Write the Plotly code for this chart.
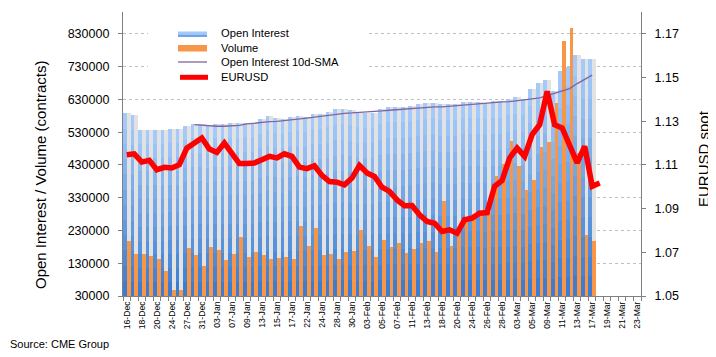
import plotly.graph_objects as go
import numpy as np

# ---------------- data ----------------
categories = ["16-Dec", "17-Dec", "18-Dec", "19-Dec", "20-Dec", "23-Dec", "24-Dec", "26-Dec", "27-Dec",
              "30-Dec", "31-Dec", "02-Jan", "03-Jan", "06-Jan", "07-Jan", "08-Jan", "09-Jan", "10-Jan",
              "13-Jan", "14-Jan", "15-Jan", "16-Jan", "17-Jan", "21-Jan", "22-Jan", "23-Jan", "24-Jan",
              "27-Jan", "28-Jan", "29-Jan", "30-Jan", "31-Jan", "03-Feb", "04-Feb", "05-Feb", "06-Feb",
              "07-Feb", "10-Feb", "11-Feb", "12-Feb", "13-Feb", "14-Feb", "18-Feb", "19-Feb", "20-Feb",
              "21-Feb", "24-Feb", "25-Feb", "26-Feb", "27-Feb", "28-Feb", "02-Mar", "03-Mar", "04-Mar",
              "05-Mar", "06-Mar", "09-Mar", "10-Mar", "11-Mar", "12-Mar", "13-Mar", "16-Mar", "17-Mar",
              "18-Mar", "19-Mar", "20-Mar", "21-Mar", "22-Mar", "23-Mar"]

tick_labels = [c if i % 2 == 0 else "" for i, c in enumerate(categories)]

open_interest = [587000, 583000, 537000, 537000, 537000, 537000, 540000, 540000, 550000, 555000,
                 555000, 549000, 555000, 555000, 557000, 557000, 558000, 558000, 571000, 578000,
                 573000, 571000, 577000, 580000, 576000, 586000, 586000, 592000, 600000, 602000,
                 599000, 592000, 590000, 590000, 602000, 608000, 608000, 608000, 611000, 617000,
                 620000, 620000, 617000, 617000, 617000, 623000, 623000, 623000, 619000, 624000,
                 624000, 631000, 637000, 631000, 663000, 681000, 690000, 657000, 718000, 729000,
                 764000, 752000, 752000]

volume = [198000, 158000, 158000, 152000, 143000, 106000, 48000, 48000, 177000, 155000,
          122000, 180000, 171000, 140000, 158000, 210000, 149000, 164000, 155000, 143000,
          146000, 149000, 143000, 244000, 183000, 238000, 155000, 158000, 143000, 164000,
          167000, 232000, 183000, 149000, 201000, 180000, 192000, 161000, 174000, 192000,
          198000, 165000, 320000, 183000, 224000, 259000, 280000, 284000, 287000, 395000,
          433000, 503000, 428000, 354000, 384000, 486000, 501000, 620000, 809000, 849000,
          466000, 216000, 198000]

oi_sma10 = [553000, 551000, 549000, 548000, 548000, 549000, 551000, 555000, 558000, 560000,
            562000, 563000, 565000, 568000, 571000, 573000, 576000, 579000, 582000, 585500,
            587600, 588600, 589600, 590700, 592700, 594700, 596800, 598800, 600800, 601900,
            602900, 604900, 607000, 607000, 609000, 612000, 614000, 616000, 618000, 619200,
            621200, 622300, 623300, 625300, 627300, 631400, 634500, 641600, 647800, 654900,
            663000, 678300, 690600, 703900]
sma_start = 9

eurusd = [1.1147, 1.1151, 1.1113, 1.1121, 1.1078, 1.1089, 1.1086, 1.1101, 1.1177, 1.1197,
          1.1223, 1.1173, 1.1157, 1.1200, 1.1154, 1.1106, 1.1106, 1.1109, 1.1124, 1.1139,
          1.1132, 1.1151, 1.1139, 1.1090, 1.1083, 1.1096, 1.1052, 1.1024, 1.1021, 1.1009,
          1.1040, 1.1098, 1.1063, 1.1047, 1.0998, 1.0979, 1.0940, 1.0913, 1.0914, 1.0872,
          1.0841, 1.0833, 1.0795, 1.0803, 1.0787, 1.0849, 1.0856, 1.0879, 1.0882, 1.1002,
          1.1029, 1.1132, 1.1177, 1.1139, 1.1239, 1.1284, 1.1437, 1.1284, 1.1269, 1.1193,
          1.1109, 1.1185, 1.1002, 1.1017]

left_ticks = [30000, 130000, 230000, 330000, 430000, 530000, 630000, 730000, 830000]
right_ticks = [1.05, 1.07, 1.09, 1.11, 1.13, 1.15, 1.17]

# ---------------- styling ----------------
FONT = "Liberation Sans, Arial, Helvetica, sans-serif"
AX_COL = "#808080"
Y_MIN = 30000
PAGE_W, PAGE_H = 716, 357
BODY = 8                              # default page body margin
X0, X1, Y0, Y1 = 123, 641, 12, 296    # plot area in page pixels
FIG_W, FIG_H = PAGE_W - BODY, PAGE_H - BODY


def px(x):
    return (x - X0) / (X1 - X0)


def py(y):
    return (Y1 - y) / (Y1 - Y0)


def mix(c1, c2, t):
    a = [int(c1[i:i + 2], 16) for i in (1, 3, 5)]
    b = [int(c2[i:i + 2], 16) for i in (1, 3, 5)]
    return "#" + "".join(f"{int(round(a[k] + (b[k] - a[k]) * t)):02x}" for k in range(3))


fig = go.Figure()
x_bars = categories[:len(open_interest)]
oi = np.array(open_interest, dtype=float)

# Open interest bars with a vertical gradient (layered bands)
n_bands = 12
for k in range(n_bands):
    f = 1 - k / n_bands
    col = mix("#a4cafb", "#3a7dd2", k / (n_bands - 1))
    fig.add_trace(go.Bar(x=x_bars, y=Y_MIN + (oi - Y_MIN) * f, width=0.5, offset=-0.5,
                         marker=dict(color=col, line=dict(width=0)),
                         name="Open Interest", showlegend=False,
                         hoverinfo="skip" if k else None))

# bar shadow
fig.add_trace(go.Bar(x=x_bars, y=open_interest, width=0.5, offset=0.0,
                     marker=dict(color="#e2e2e2", line=dict(width=0)),
                     showlegend=False, hoverinfo="skip"))

fig.add_trace(go.Bar(x=x_bars, y=volume, width=0.5, offset=0.0,
                     marker=dict(color="#f79646", line=dict(width=0)),
                     name="Volume", showlegend=False))

fig.add_trace(go.Scatter(x=categories[sma_start:sma_start + len(oi_sma10)], y=oi_sma10,
                         mode="lines", line=dict(color="#8064a2", width=1.3),
                         name="Open Interest 10d-SMA", showlegend=False))

fig.add_trace(go.Scatter(x=categories[:len(eurusd)], y=eurusd, yaxis="y2",
                         mode="lines", line=dict(color="#ff0000", width=5.5),
                         name="EURUSD", showlegend=False))

# ---------------- manual legend ----------------
shapes = [dict(type="rect", xref="paper", yref="paper", x0=px(148), x1=px(368), y0=py(88), y1=py(22),
               fillcolor="white", line=dict(width=0), layer="above")]
shapes.append(dict(type="rect", xref="paper", yref="paper", x0=px(178), x1=px(207), y0=py(37), y1=py(34.3),
                   fillcolor="#6fa3e8", line=dict(width=0), layer="above"))
shapes.append(dict(type="rect", xref="paper", yref="paper", x0=px(178), x1=px(207), y0=py(34.3), y1=py(31.5),
                   fillcolor="#a3c8fa", line=dict(width=0), layer="above"))
shapes.append(dict(type="rect", xref="paper", yref="paper", x0=px(178), x1=px(207), y0=py(51.5), y1=py(45),
                   fillcolor="#f79646", line=dict(width=0), layer="above"))
shapes.append(dict(type="line", xref="paper", yref="paper", x0=px(178), x1=px(207), y0=py(62), y1=py(62),
                   line=dict(color="#8064a2", width=1.3), layer="above"))
shapes.append(dict(type="line", xref="paper", yref="paper", x0=px(180), x1=px(208), y0=py(77.3), y1=py(77.3),
                   line=dict(color="#ff0000", width=5), layer="above"))

legend_names = ["Open Interest", "Volume", "Open Interest 10d-SMA", "EURUSD"]
legend_y = [33.5, 48, 62, 76.5]
annotations = []
for name, ly in zip(legend_names, legend_y):
    annotations.append(dict(text=name, xref="paper", yref="paper", x=px(219), y=py(ly),
                            xanchor="left", yanchor="middle", showarrow=False,
                            font=dict(family=FONT, size=11.2, color="#000000")))

# axis titles and source
annotations.append(dict(text="Open Interest / Volume (contracts)", xref="paper", yref="paper",
                        x=px(40), y=py(175), xanchor="center", yanchor="middle", textangle=-90,
                        showarrow=False, font=dict(family=FONT, size=15, color="#000000")))
annotations.append(dict(text="EURUSD spot", xref="paper", yref="paper",
                        x=px(703), y=py(159), xanchor="center", yanchor="middle", textangle=-90,
                        showarrow=False, font=dict(family=FONT, size=15, color="#000000")))
annotations.append(dict(text="Source: CME Group", xref="paper", yref="paper",
                        x=px(8), y=py(344), xanchor="left", yanchor="middle",
                        showarrow=False, font=dict(family=FONT, size=11, color="#000000")))

fig.update_layout(
    width=FIG_W, height=FIG_H,
    margin=dict(l=X0 - BODY, r=FIG_W - (X1 - BODY), t=Y0 - BODY, b=FIG_H - (Y1 - BODY),
                autoexpand=False),
    paper_bgcolor="white", plot_bgcolor="white",
    barmode="overlay", bargap=0,
    showlegend=False,
    font=dict(family=FONT, color="#000000"),
    shapes=shapes, annotations=annotations,
    xaxis=dict(type="category", categoryorder="array", categoryarray=categories,
               range=[-0.5, len(categories) - 0.5],
               tickmode="array", tickvals=categories, ticktext=tick_labels,
               tickson="boundaries", ticks="outside", ticklen=4, tickcolor=AX_COL, tickwidth=1,
               tickangle=-90, tickfont=dict(family=FONT, size=8.6, color="#000000"),
               ticklabelstandoff=1,
               showline=True, linecolor=AX_COL, linewidth=1.2, showgrid=False,
               zeroline=False, automargin=False),
    yaxis=dict(range=[Y_MIN, 896700], tickmode="array", tickvals=left_ticks,
               ticktext=[str(v) for v in left_ticks],
               ticks="outside", ticklen=4, tickcolor=AX_COL,
               tickfont=dict(family=FONT, size=12.5, color="#000000"), ticklabelstandoff=6,
               showline=True, linecolor=AX_COL, linewidth=1.2,
               showgrid=True, gridcolor="#bfbfbf", griddash="3px,3px", gridwidth=1,
               zeroline=False, automargin=False),
    yaxis2=dict(range=[1.05, 1.18], overlaying="y", side="right", tickmode="array",
                tickvals=right_ticks, ticktext=[f"{v:.2f}" for v in right_ticks],
                ticks="outside", ticklen=4, tickcolor=AX_COL,
                tickfont=dict(family=FONT, size=12.5, color="#000000"), ticklabelstandoff=6,
                showline=True, linecolor=AX_COL, linewidth=1.2, showgrid=False,
                zeroline=False, automargin=False),
)

fig.write_html("out.html")
